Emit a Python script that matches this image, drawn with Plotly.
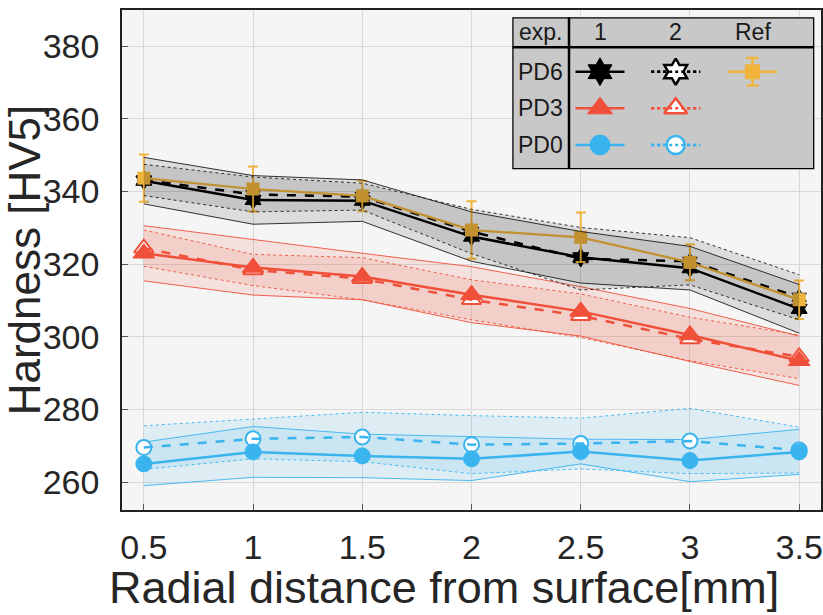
import plotly.graph_objects as go

# ---------------- data ----------------
x_vals = [0.5, 1, 1.5, 2, 2.5, 3, 3.5]
x_tick_labels = ["0.5", "1", "1.5", "2", "2.5", "3", "3.5"]
y_ticks = [260, 280, 300, 320, 340, 360, 380]

pd6_exp1 = [343.0, 337.7, 337.5, 327.6, 321.9, 318.9, 307.7]
pd6_exp1_sd = [6.4, 6.7, 5.7, 6.8, 7.1, 6.0, 6.7]
pd6_exp2 = [343.2, 339.2, 338.6, 329.0, 321.5, 320.8, 310.9]
pd6_exp2_sd = [4.3, 4.8, 3.7, 6.1, 8.6, 6.5, 6.2]

ref_mean = [343.7, 340.7, 338.8, 329.4, 327.4, 320.5, 310.2]
ref_err = [6.5, 6.2, 4.2, 7.9, 6.8, 4.9, 5.3]

pd3_exp1 = [323.0, 319.1, 316.6, 311.6, 307.0, 300.5, 293.4]
pd3_exp1_sd = [7.6, 7.6, 6.4, 7.7, 6.8, 7.3, 6.8]
pd3_exp2 = [324.4, 318.4, 316.0, 310.2, 305.8, 299.4, 294.5]
pd3_exp2_sd = [5.0, 4.3, 5.8, 5.5, 6.0, 6.0, 6.0]

pd0_exp1 = [265.0, 268.3, 267.2, 266.4, 268.4, 265.9, 268.3]
pd0_exp1_sd = [6.0, 7.0, 6.0, 6.0, 3.4, 5.8, 6.2]
pd0_exp2 = [269.5, 271.9, 272.4, 270.3, 270.6, 271.3, 268.8]
pd0_exp2_sd = [6.0, 5.5, 6.8, 8.0, 7.0, 9.0, 6.3]

legend_rows = ["PD6", "PD3", "PD0"]
legend_cols = ["1", "2", "Ref"]
x_title = "Radial distance from surface[mm]"
y_title = "Hardness [HV5]"

# ---------------- style ----------------
FONT = "Liberation Sans, Arial, sans-serif"
BLACK = "#000000"
RED = "#F05039"
BLUE = "#3AB4EF"
GOLD = "#F0B43C"
BAND = {"k": "rgba(0,0,0,0.10)", "r": "rgba(240,80,57,0.12)", "b": "rgba(58,180,239,0.12)"}
EDGE = {"k": "rgba(30,30,30,0.9)", "r": "rgba(240,80,57,0.9)", "b": "rgba(58,180,239,0.9)"}

fig = go.Figure()


def add_band(mean, sd, key, dotted):
    upper = [m + s for m, s in zip(mean, sd)]
    lower = [m - s for m, s in zip(mean, sd)]
    fig.add_trace(go.Scatter(x=x_vals + x_vals[::-1], y=upper + lower[::-1], fill="toself",
                             fillcolor=BAND[key], line=dict(width=0), mode="lines",
                             hoverinfo="skip"))
    for edge in (upper, lower):
        fig.add_trace(go.Scatter(x=x_vals, y=edge, mode="lines",
                                 line=dict(color=EDGE[key], width=1, dash="dot" if dotted else "solid"),
                                 hoverinfo="skip"))


# PD0 and PD3 bands (below their lines)
add_band(pd0_exp1, pd0_exp1_sd, "b", False)
add_band(pd0_exp2, pd0_exp2_sd, "b", True)
add_band(pd3_exp1, pd3_exp1_sd, "r", False)
add_band(pd3_exp2, pd3_exp2_sd, "r", True)


def add_series(y, color, symbol, size, filled, dashed, lw=2.0):
    if filled:
        fig.add_trace(go.Scatter(x=x_vals, y=y, mode="lines+markers",
                                 line=dict(color=color, width=2.5, dash="dash" if dashed else "solid"),
                                 marker=dict(symbol=symbol, size=size, color=color,
                                             line=dict(color=color, width=1))))
    else:
        fig.add_trace(go.Scatter(x=x_vals, y=y, mode="markers",
                                 marker=dict(symbol=symbol, size=size, color="white",
                                             line=dict(color=color, width=lw))))
        fig.add_trace(go.Scatter(x=x_vals, y=y, mode="lines",
                                 line=dict(color=color, width=2.5, dash="dash" if dashed else "solid")))


add_series(pd0_exp2, BLUE, "circle", 15, False, True)
add_series(pd0_exp1, BLUE, "circle", 16, True, False)
add_series(pd3_exp2, RED, "triangle-up", 17, False, True)
add_series(pd3_exp1, RED, "triangle-up", 19, True, False)
add_series(pd6_exp2, BLACK, "hexagram", 12, False, True, lw=1.2)
add_series(pd6_exp1, BLACK, "hexagram", 14, True, False)

# reference
fig.add_trace(go.Scatter(x=x_vals, y=ref_mean, mode="lines+markers",
                         line=dict(color=GOLD, width=2.2),
                         marker=dict(symbol="square", size=13, color=GOLD),
                         error_y=dict(type="data", array=ref_err, color=GOLD, thickness=2, width=5)))

# PD6 bands on top
add_band(pd6_exp1, pd6_exp1_sd, "k", False)
add_band(pd6_exp2, pd6_exp2_sd, "k", True)

# ---------------- legend table (separate axes in pixel-like units) ----------------
LX0, LX1, LY0, LY1 = 512.3, 814.3, 17.3, 169.3
col_x = [600.0, 675.7, 752.5]
row_y = [71.7, 108.3, 145.0]
half = 24.5
fig.add_trace(go.Scatter(x=[LX0, LX1, LX1, LX0, LX0], y=[LY0, LY0, LY1, LY1, LY0], fill="toself",
                         fillcolor="#C8C8C8", line=dict(width=0), mode="lines",
                         xaxis="x2", yaxis="y2", hoverinfo="skip"))

leg_specs = [
    [(BLACK, "hexagram", 21, True), (BLACK, "hexagram", 20, False), (GOLD, "square", 15, True)],
    [(RED, "triangle-up", 22, True), (RED, "triangle-up", 20, False), None],
    [(BLUE, "circle", 20, True), (BLUE, "circle", 18, False), None],
]
for ri, row in enumerate(leg_specs):
    for ci, spec in enumerate(row):
        if spec is None:
            continue
        color, sym, size, filled = spec
        cx, cy = col_x[ci], row_y[ri]
        fig.add_trace(go.Scatter(x=[cx - half, cx + half], y=[cy, cy], mode="lines",
                                 line=dict(color=color, width=2.5, dash="solid" if ci != 1 else "dot"),
                                 xaxis="x2", yaxis="y2", hoverinfo="skip"))
        if ci == 2:
            fig.add_trace(go.Scatter(x=[cx], y=[cy], mode="markers",
                                     marker=dict(symbol=sym, size=size, color=color),
                                     error_y=dict(type="constant", value=13.7, color=color,
                                                  thickness=2.5, width=6),
                                     xaxis="x2", yaxis="y2", hoverinfo="skip"))
        elif filled:
            fig.add_trace(go.Scatter(x=[cx], y=[cy], mode="markers",
                                     marker=dict(symbol=sym, size=size, color=color,
                                                 line=dict(color=color, width=1)),
                                     xaxis="x2", yaxis="y2", hoverinfo="skip"))
        else:
            fig.add_trace(go.Scatter(x=[cx], y=[cy], mode="markers",
                                     marker=dict(symbol=sym, size=size, color="white",
                                                 line=dict(color=color, width=2.5)),
                                     xaxis="x2", yaxis="y2", hoverinfo="skip"))
            fig.add_trace(go.Scatter(x=[cx - half, cx + half], y=[cy, cy], mode="lines",
                                     line=dict(color=color, width=2.5, dash="dot"),
                                     xaxis="x2", yaxis="y2", hoverinfo="skip"))

annotations = []
annotations.append(dict(x=540.5, y=31.7, text="exp.", xref="x2", yref="y2", showarrow=False,
                        font=dict(family=FONT, size=23, color="#1a1a1a")))
for ci, lab in enumerate(legend_cols):
    annotations.append(dict(x=col_x[ci], y=31.7, text=lab, xref="x2", yref="y2", showarrow=False,
                            font=dict(family=FONT, size=23, color="#1a1a1a")))
for ri, lab in enumerate(legend_rows):
    annotations.append(dict(x=540.5, y=row_y[ri], text=lab, xref="x2", yref="y2", showarrow=False,
                            font=dict(family=FONT, size=23, color="#1a1a1a")))

L, R, T, B = 122, 2, 10, 105
W, H = 823, 615
pw, ph = W - L - R, H - T - B

# x-axis title placed as text below the axis
annotations.append(dict(x=(444 - L) / pw, y=(H - B - 587) / ph, xref="paper", yref="paper",
                        text=x_title, showarrow=False, xanchor="center", yanchor="middle",
                        font=dict(family=FONT, size=45, color="#262626")))

shapes = [
    dict(type="rect", xref="x2", yref="y2", x0=LX0, x1=LX1, y0=LY0, y1=LY1,
         line=dict(color="black", width=2.5), layer="above"),
    dict(type="line", xref="x2", yref="y2", x0=569, x1=569, y0=LY0, y1=LY1,
         line=dict(color="black", width=2.5), layer="above"),
    dict(type="line", xref="x2", yref="y2", x0=LX0, x1=LX1, y0=47.3, y1=47.3,
         line=dict(color="black", width=2.5), layer="above"),
]

fig.update_layout(
    width=W, height=H,
    margin=dict(l=L, r=R, t=T, b=B, autoexpand=False),
    paper_bgcolor="white",
    plot_bgcolor="#F5F5F5",
    showlegend=False,
    font=dict(family=FONT, color="#262626"),
    annotations=annotations,
    shapes=shapes,
    xaxis=dict(range=[0.4, 3.6], tickvals=x_vals, ticktext=x_tick_labels, automargin=False,
               showgrid=True, gridcolor="#D8D8D8", gridwidth=1, zeroline=False,
               showline=True, mirror=True, linecolor="#202020", linewidth=1.5,
               ticks="inside", ticklen=6, tickcolor="#555555", ticklabelstandoff=6,
               tickfont=dict(size=34, family=FONT, color="#262626")),
    yaxis=dict(range=[252.3, 390], tickvals=y_ticks, automargin=False,
               showgrid=True, gridcolor="#D8D8D8", gridwidth=1, zeroline=False,
               showline=True, mirror=True, linecolor="#202020", linewidth=1.5,
               ticks="inside", ticklen=6, tickcolor="#555555", ticklabelstandoff=14,
               tickfont=dict(size=34, family=FONT, color="#262626"),
               title=dict(text=y_title, standoff=6,
                          font=dict(size=44, family=FONT, color="#262626"))),
    xaxis2=dict(domain=[(LX0 - L) / pw, (LX1 - L) / pw], range=[LX0, LX1], anchor="y2",
                visible=False, showgrid=False, zeroline=False),
    yaxis2=dict(domain=[(H - B - LY1) / ph, (H - B - LY0) / ph], range=[LY1, LY0], anchor="x2",
                visible=False, showgrid=False, zeroline=False),
)

fig.write_html("out.html", config={"displayModeBar": False},
               post_script="document.body.style.margin='0';")
